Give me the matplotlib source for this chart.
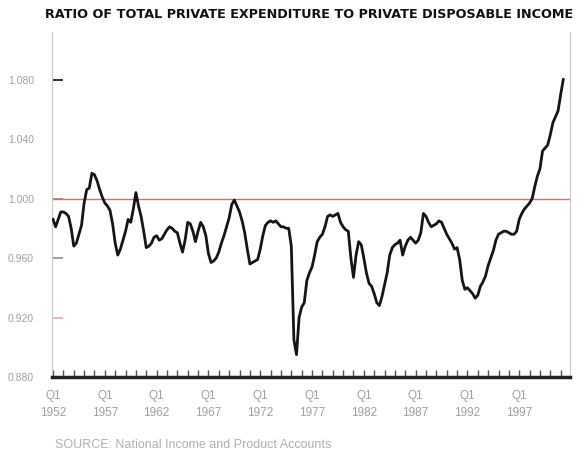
import numpy as np
import matplotlib
matplotlib.use("Agg")
import matplotlib.pyplot as plt

# quarterly ratio, 1952 Q1 onwards
ratio = [
    0.986, 0.981, 0.986, 0.991,  # 1952
    0.991, 0.990, 0.988, 0.980,  # 1953
    0.968, 0.970, 0.976, 0.982,  # 1954
    0.997, 1.006, 1.007, 1.017,  # 1955
    1.016, 1.012, 1.006, 1.001,  # 1956
    0.997, 0.995, 0.992, 0.983,  # 1957
    0.970, 0.962, 0.966, 0.972,  # 1958
    0.978, 0.986, 0.984, 0.993,  # 1959
    1.004, 0.995, 0.988, 0.978,  # 1960
    0.967, 0.968, 0.970, 0.974,  # 1961
    0.975, 0.972, 0.973, 0.976,  # 1962
    0.979, 0.981, 0.980, 0.978,  # 1963
    0.977, 0.970, 0.964, 0.972,  # 1964
    0.984, 0.983, 0.978, 0.971,  # 1965
    0.978, 0.984, 0.981, 0.975,  # 1966
    0.963, 0.957, 0.958, 0.960,  # 1967
    0.964, 0.970, 0.975, 0.981,  # 1968
    0.987, 0.996, 0.999, 0.995,  # 1969
    0.991, 0.985, 0.977, 0.966,  # 1970
    0.956, 0.957, 0.958, 0.959,  # 1971
    0.966, 0.975, 0.982, 0.984,  # 1972
    0.985, 0.984, 0.985, 0.983,  # 1973
    0.981, 0.981, 0.980, 0.980,  # 1974
    0.968, 0.905, 0.895, 0.920,  # 1975
    0.927, 0.930, 0.945, 0.950,  # 1976
    0.954, 0.962, 0.971, 0.974,  # 1977
    0.976, 0.981, 0.988, 0.989,  # 1978
    0.988, 0.989, 0.990, 0.984,  # 1979
    0.981, 0.979, 0.978, 0.960,  # 1980
    0.947, 0.962, 0.971, 0.969,  # 1981
    0.960, 0.950, 0.943, 0.941,  # 1982
    0.936, 0.930, 0.928, 0.934,  # 1983
    0.942, 0.950, 0.962, 0.967,  # 1984
    0.969, 0.970, 0.972, 0.962,  # 1985
    0.968, 0.972, 0.974, 0.972,  # 1986
    0.970, 0.972, 0.977, 0.990,  # 1987
    0.988, 0.984, 0.981, 0.982,  # 1988
    0.983, 0.985, 0.984, 0.980,  # 1989
    0.976, 0.973, 0.970, 0.966,  # 1990
    0.967, 0.959, 0.945, 0.939,  # 1991
    0.940, 0.938, 0.936, 0.933,  # 1992
    0.935, 0.941, 0.944, 0.948,  # 1993
    0.955, 0.960, 0.965, 0.972,  # 1994
    0.976, 0.977, 0.978, 0.978,  # 1995
    0.977, 0.976, 0.976, 0.978,  # 1996
    0.986, 0.990, 0.993, 0.995,  # 1997
    0.997, 1.000, 1.008, 1.015,  # 1998
    1.020, 1.032, 1.034, 1.036,  # 1999
    1.043, 1.051, 1.055, 1.059,  # 2000
    1.070, 1.080,                # 2001
]
start_year = 1952
label_years = [1952, 1957, 1962, 1967, 1972, 1977, 1982, 1987, 1992, 1997]
y_ticks = [0.880, 0.920, 0.960, 1.000, 1.040, 1.080]

quarters = start_year + np.arange(len(ratio)) / 4.0

plt.rcParams['font.family'] = ['Liberation Sans', 'DejaVu Sans']

fig = plt.figure(figsize=(5.84, 4.51), dpi=100)
ax = fig.add_axes([52/584, 1 - 377/451, 518/584, 345/451])

ax.axhline(1.0, color='#c47a72', lw=1.0, zorder=1)
ax.plot(quarters, ratio, color='#151515', lw=2.0, zorder=3)

ax.set_xlim(1951.9, 2001.9)
ax.set_ylim(0.880, 1.112)

ax.set_xticks(label_years)
ax.set_xticklabels(['Q1\n%d' % y for y in label_years], color='#a0a0a0',
                   fontsize=8.5, linespacing=1.6)
ax.set_xticks(np.arange(1953, 2002), minor=True)
ax.tick_params(axis='x', which='both', direction='in', length=5, width=1,
               color='#555555', pad=9)

ax.set_yticks(y_ticks)
ax.set_yticklabels(['%.3f' % v for v in y_ticks], color='#a0a0a0', fontsize=7.5)
ax.tick_params(axis='y', direction='in', length=8, width=1.3, pad=13, color='#888888')
ycols = ['#333333', '#f2a8a8', '#999999', '#c47a72', 'none', '#222222']
for t, c in zip(ax.yaxis.get_major_ticks(), ycols):
    t.tick1line.set_markeredgecolor(c)

ax.spines['top'].set_visible(False)
ax.spines['left'].set_color('#c8c8c8')
ax.spines['right'].set_color('#c8c8c8')
ax.spines['bottom'].set_color('#222222')
ax.spines['bottom'].set_linewidth(2.5)
ax.spines['bottom'].set_zorder(4)

fig.text(45/584, 1 - 15/451, 'RATIO OF TOTAL PRIVATE EXPENDITURE TO PRIVATE DISPOSABLE INCOME',
         fontsize=9.2, fontweight='bold', family='DejaVu Sans', va='center', ha='left',
         color='#111111')
fig.text(55/584, 1 - 439/451, 'SOURCE: National Income and Product Accounts',
         fontsize=9, color='#b0b0b0', va='top', ha='left')

fig.savefig('out.png', dpi=100)
